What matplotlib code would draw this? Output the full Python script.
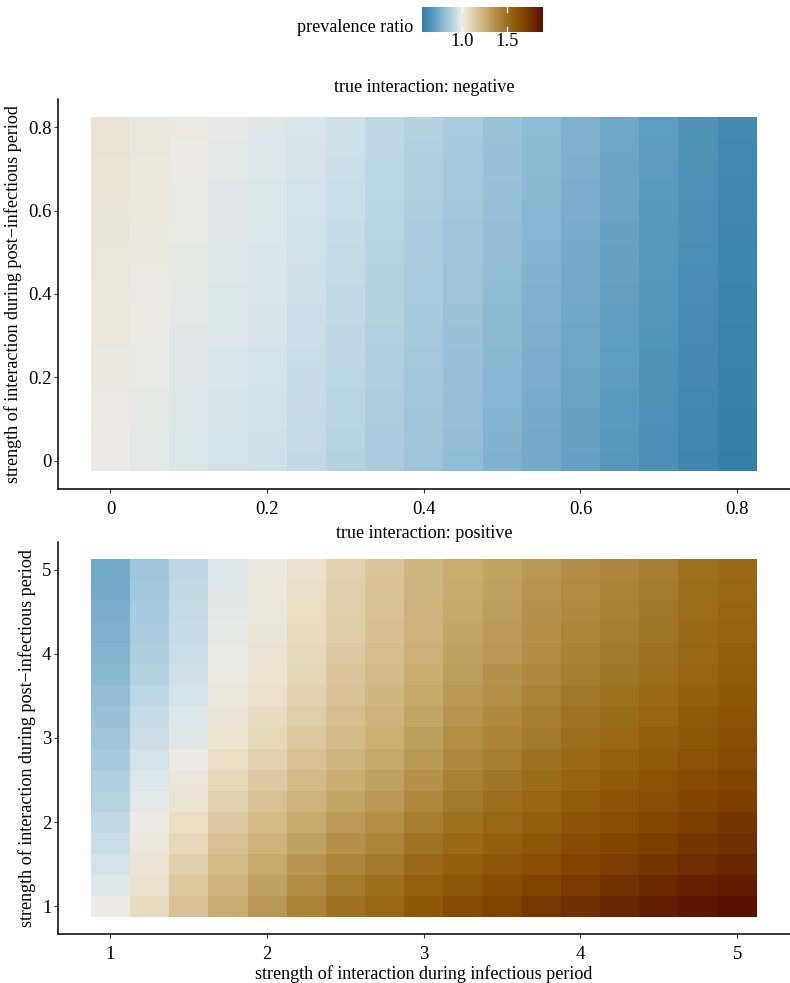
import numpy as np
import matplotlib
matplotlib.use("Agg")
import matplotlib.pyplot as plt
from matplotlib.colors import LinearSegmentedColormap, Normalize

plt.rcParams['font.family'] = ['Liberation Serif', 'DejaVu Serif']

# ---------------- data ----------------
neg_x = [0.0, 0.05, 0.1, 0.15, 0.2, 0.25, 0.3, 0.35, 0.4, 0.45, 0.5, 0.55, 0.6, 0.65, 0.7, 0.75, 0.8]
neg_y = [0.0, 0.05, 0.1, 0.15, 0.2, 0.25, 0.3, 0.35, 0.4, 0.45, 0.5, 0.55, 0.6, 0.65, 0.7, 0.75, 0.8]
# rows: y from 0 (first) to 0.8 (last); columns: x from 0 to 0.8
neg_vals = [
    [1.000, .985, .970, .955, .945, .920, .895, .870, .840, .810, .775, .745, .715, .680, .640, .600, .570],
    [1.003, .988, .972, .957, .947, .923, .898, .873, .843, .813, .779, .749, .719, .684, .644, .604, .573],
    [1.005, .990, .974, .959, .949, .926, .901, .876, .846, .817, .783, .753, .723, .688, .648, .608, .576],
    [1.008, .993, .977, .962, .952, .928, .904, .878, .849, .820, .786, .756, .726, .691, .651, .611, .578],
    [1.010, .995, .979, .964, .954, .931, .908, .881, .853, .824, .790, .760, .730, .695, .655, .615, .581],
    [1.013, .998, .981, .966, .956, .934, .911, .884, .856, .827, .794, .764, .734, .699, .659, .619, .584],
    [1.015, 1.000, .983, .968, .958, .937, .914, .887, .859, .831, .798, .768, .738, .703, .663, .623, .587],
    [1.018, 1.003, .985, .970, .960, .940, .917, .890, .862, .834, .801, .771, .741, .706, .666, .626, .590],
    [1.020, 1.005, .988, .973, .963, .943, .920, .893, .865, .838, .805, .775, .745, .710, .670, .630, .593],
    [1.023, 1.008, .990, .975, .965, .945, .923, .895, .868, .841, .809, .779, .749, .714, .674, .634, .595],
    [1.025, 1.010, .992, .977, .967, .948, .926, .898, .871, .844, .813, .783, .753, .718, .678, .638, .598],
    [1.028, 1.013, .994, .979, .969, .951, .929, .901, .874, .848, .816, .786, .756, .721, .681, .641, .601],
    [1.030, 1.015, .996, .981, .971, .954, .933, .904, .878, .851, .820, .790, .760, .725, .685, .645, .604],
    [1.033, 1.018, .998, .983, .973, .957, .936, .907, .881, .855, .824, .794, .764, .729, .689, .649, .607],
    [1.035, 1.020, 1.001, .986, .976, .959, .939, .909, .884, .858, .828, .798, .768, .733, .693, .653, .609],
    [1.038, 1.023, 1.003, .988, .978, .962, .942, .912, .887, .862, .831, .801, .771, .736, .696, .656, .612],
    [1.040, 1.025, 1.005, .990, .980, .965, .945, .915, .890, .865, .835, .805, .775, .740, .700, .660, .615],
]

pos_x = [1.0, 1.25, 1.5, 1.75, 2.0, 2.25, 2.5, 2.75, 3.0, 3.25, 3.5, 3.75, 4.0, 4.25, 4.5, 4.75, 5.0]
pos_y = [1.0, 1.25, 1.5, 1.75, 2.0, 2.25, 2.5, 2.75, 3.0, 3.25, 3.5, 3.75, 4.0, 4.25, 4.5, 4.75, 5.0]
# rows: y from 1 (first) to 5 (last)
pos_vals = [
    [1.000, 1.080, 1.180, 1.270, 1.350, 1.430, 1.490, 1.540, 1.600, 1.660, 1.700, 1.740, 1.780, 1.815, 1.845, 1.875, 1.900],
    [0.978, 1.060, 1.154, 1.241, 1.316, 1.393, 1.453, 1.503, 1.563, 1.613, 1.653, 1.693, 1.733, 1.768, 1.798, 1.829, 1.856],
    [0.957, 1.040, 1.127, 1.211, 1.282, 1.356, 1.416, 1.466, 1.526, 1.570, 1.610, 1.650, 1.690, 1.724, 1.754, 1.788, 1.815],
    [0.936, 1.021, 1.098, 1.179, 1.245, 1.315, 1.375, 1.425, 1.485, 1.531, 1.571, 1.611, 1.651, 1.685, 1.715, 1.750, 1.778],
    [0.916, 1.002, 1.071, 1.149, 1.211, 1.278, 1.338, 1.388, 1.448, 1.496, 1.536, 1.576, 1.616, 1.649, 1.679, 1.715, 1.745],
    [0.898, 0.986, 1.045, 1.120, 1.177, 1.241, 1.301, 1.351, 1.411, 1.465, 1.505, 1.545, 1.585, 1.618, 1.648, 1.685, 1.715],
    [0.880, 0.970, 1.021, 1.093, 1.146, 1.208, 1.268, 1.318, 1.378, 1.438, 1.478, 1.518, 1.558, 1.590, 1.620, 1.658, 1.689],
    [0.862, 0.953, 1.000, 1.069, 1.119, 1.178, 1.238, 1.288, 1.348, 1.410, 1.450, 1.490, 1.530, 1.562, 1.592, 1.632, 1.663],
    [0.844, 0.937, 0.981, 1.049, 1.095, 1.153, 1.213, 1.263, 1.323, 1.387, 1.427, 1.467, 1.507, 1.539, 1.569, 1.609, 1.641],
    [0.829, 0.923, 0.968, 1.034, 1.078, 1.134, 1.194, 1.244, 1.304, 1.368, 1.408, 1.448, 1.488, 1.519, 1.549, 1.590, 1.623],
    [0.813, 0.907, 0.955, 1.019, 1.061, 1.116, 1.176, 1.226, 1.286, 1.348, 1.388, 1.428, 1.468, 1.499, 1.529, 1.571, 1.604],
    [0.796, 0.892, 0.944, 1.007, 1.047, 1.101, 1.161, 1.211, 1.271, 1.329, 1.369, 1.409, 1.449, 1.479, 1.509, 1.552, 1.586],
    [0.781, 0.878, 0.935, 0.997, 1.036, 1.088, 1.148, 1.198, 1.258, 1.313, 1.353, 1.393, 1.433, 1.463, 1.493, 1.537, 1.571],
    [0.772, 0.870, 0.928, 0.990, 1.027, 1.079, 1.139, 1.189, 1.249, 1.301, 1.341, 1.381, 1.421, 1.452, 1.482, 1.525, 1.560],
    [0.763, 0.861, 0.923, 0.984, 1.020, 1.071, 1.131, 1.181, 1.241, 1.290, 1.330, 1.370, 1.410, 1.440, 1.470, 1.514, 1.549],
    [0.754, 0.853, 0.919, 0.979, 1.015, 1.066, 1.126, 1.176, 1.236, 1.280, 1.320, 1.360, 1.400, 1.430, 1.460, 1.505, 1.539],
    [0.745, 0.845, 0.915, 0.975, 1.010, 1.060, 1.120, 1.170, 1.230, 1.270, 1.310, 1.350, 1.390, 1.420, 1.450, 1.495, 1.530],
]

neg_ticks = [0.0, 0.2, 0.4, 0.6, 0.8]
neg_ticklabels = ["0", "0.2", "0.4", "0.6", "0.8"]
pos_ticks = [1, 2, 3, 4, 5]
pos_ticklabels = ["1", "2", "3", "4", "5"]
cbar_ticks = [1.0, 1.5]
cbar_ticklabels = ["1.0", "1.5"]

titles = ["true interaction: negative", "true interaction: positive"]
xlabel = "strength of interaction during infectious period"
ylabel = "strength of interaction during post\u2212infectious period"
legend_title = "prevalence ratio"

# ---------------- colour scale ----------------
vmin, vmax = 0.567, 1.90
anchors = [
    (0.567, "#3580aa"), (0.70, "#5e9cc1"), (0.80, "#8cbad3"), (0.90, "#b9d4e2"),
    (0.96, "#d6e4ea"), (1.00, "#ecebe6"), (1.05, "#ebe2cf"), (1.10, "#e5d6b7"),
    (1.20, "#d5bd8c"), (1.30, "#c3a566"), (1.40, "#b08a42"), (1.50, "#9e7020"),
    (1.60, "#8f5808"), (1.70, "#824200"), (1.80, "#6e2800"), (1.90, "#5c1000"),
]
cmap = LinearSegmentedColormap.from_list(
    "prev", [((v - vmin) / (vmax - vmin), c) for v, c in anchors])
norm = Normalize(vmin=vmin, vmax=vmax)

W, H = 790, 983
fig = plt.figure(figsize=(W / 100, H / 100), dpi=100)

def fx(px):
    return px / W

def fy(py):
    return 1 - py / H

left = 57.6
ax1 = fig.add_axes([fx(left), fy(489), 1 - fx(left), fy(99) - fy(489)])
ax2 = fig.add_axes([fx(left), fy(934.4), 1 - fx(left), fy(541.6) - fy(934.4)])

FS = 13.1

def draw(ax, xs, ys, vals, ticks, ticklabels, step):
    ax.pcolormesh(xs, ys, np.array(vals), cmap=cmap, norm=norm, shading='nearest',
                  antialiased=False, edgecolors='face', linewidth=0)
    lo = xs[0] - step / 2
    hi = xs[-1] + step / 2
    ex = (hi - lo) * 0.05
    ax.set_xlim(lo - ex, hi + ex)
    ax.set_ylim(lo - ex, hi + ex)
    ax.set_xticks(ticks)
    ax.set_xticklabels(ticklabels)
    ax.set_yticks(ticks)
    ax.set_yticklabels(ticklabels)
    for s in ['top', 'right']:
        ax.spines[s].set_visible(False)
    for s in ['left', 'bottom']:
        ax.spines[s].set_linewidth(1.1)
        ax.spines[s].set_color('black')
    ax.tick_params(length=3, width=0.8, color='#333333', labelsize=13.5,
                   labelcolor='black')
    ax.tick_params(axis='y', pad=1.5)
    ax.tick_params(axis='x', pad=5.5)
    ax.set_ylabel(ylabel, fontsize=FS, labelpad=4)

draw(ax1, neg_x, neg_y, neg_vals, neg_ticks, neg_ticklabels, 0.05)
draw(ax2, pos_x, pos_y, pos_vals, pos_ticks, pos_ticklabels, 0.25)
ax1.set_title(titles[0], fontsize=FS, pad=5)
ax2.set_title(titles[1], fontsize=FS, pad=-4.5)
ax2.set_xlabel(xlabel, fontsize=FS, labelpad=1.5)

# ---------------- colour bar ----------------
cax = fig.add_axes([fx(422.4), fy(31.7), fx(543.4) - fx(422.4), fy(6.7) - fy(31.7)])
grad = np.linspace(vmin, vmax, 300)
cax.imshow(grad[np.newaxis, :], aspect='auto', cmap=cmap, norm=norm,
           extent=[vmin, vmax, 0, 1])
cax.set_xlim(vmin, vmax)
cax.set_ylim(0, 1)
for t in cbar_ticks:
    cax.plot([t, t], [0, 0.2], color='white', lw=0.9)
    cax.plot([t, t], [0.8, 1], color='white', lw=0.9)
cax.set_yticks([])
cax.set_xticks(cbar_ticks)
cax.set_xticklabels(cbar_ticklabels)
cax.tick_params(axis='x', length=0, labelsize=13.3, pad=1)
for s in cax.spines.values():
    s.set_visible(False)
fig.text(fx(413), fy(27), legend_title, ha='right', va='center', fontsize=FS)

fig.savefig("out.png", dpi=100)
